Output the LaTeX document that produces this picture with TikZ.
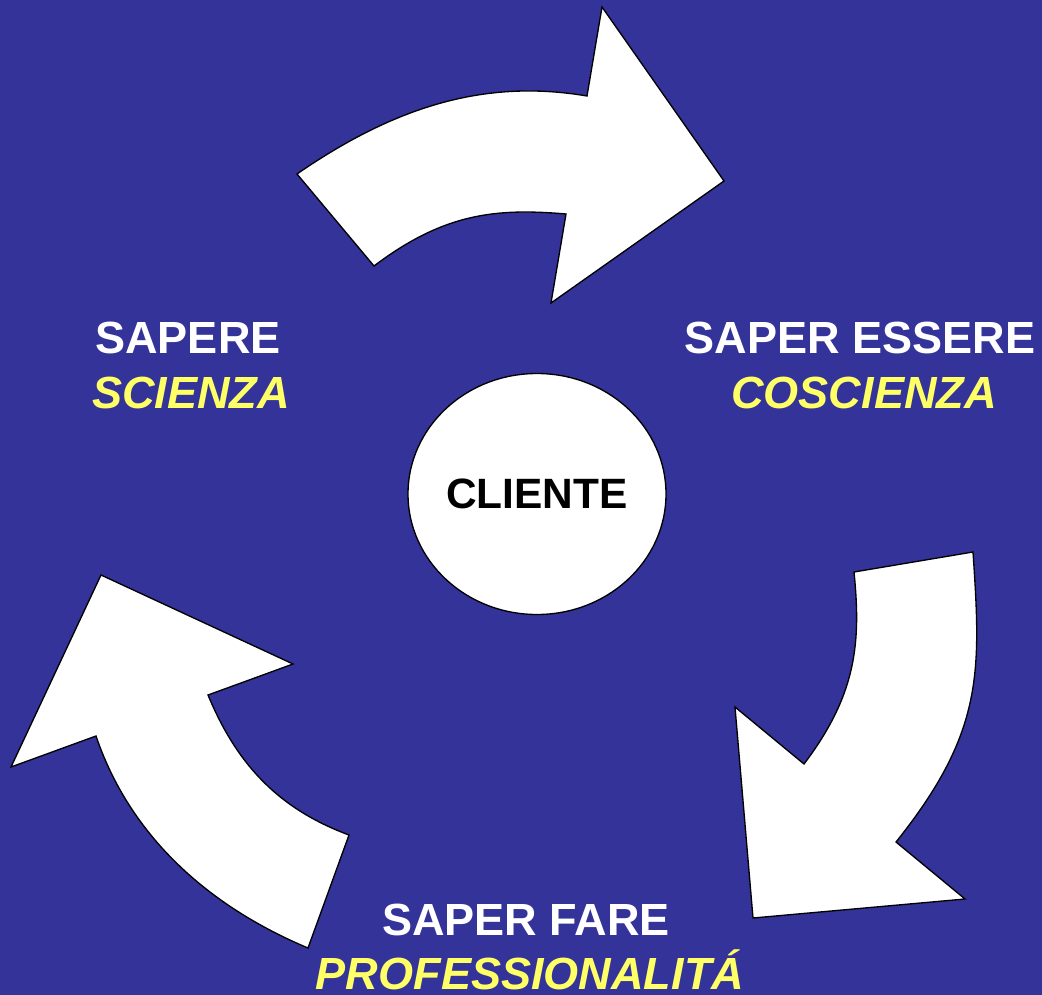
\documentclass[tikz,border=0pt]{standalone}
\usepackage{fontspec}
\setmainfont{Liberation Sans}
\usetikzlibrary{shapes.geometric}
\definecolor{bgblue}{HTML}{333399}
\definecolor{lblyellow}{HTML}{FFFF66}
\tikzset{
  arrowshape/.style={draw=black, fill=white, line width=1pt, line join=miter},
  toplabel/.style={anchor=base, text=white, font=\fontsize{33.8}{40}\selectfont\bfseries, inner sep=0},
  sublabel/.style={anchor=base, text=lblyellow, font=\fontsize{33.8}{40}\selectfont\bfseries\itshape, inner sep=0},
}
\begin{document}
\begin{tikzpicture}[x=0.75pt,y=-0.75pt]
\fill[bgblue] (0,0) rectangle (1042,995);
\useasboundingbox (0,0) rectangle (1042,995);
% top arrow
\path[arrowshape] (297,174) .. controls (397,105) and (487,79) .. (587,96)
  -- (602,7) -- (724,181) -- (551,303) -- (566,214)
  .. controls (496,208) and (444,213) .. (374,266) -- cycle;
% right arrow
\path[arrowshape] (854,572) -- (973,552) .. controls (981,672) and (984,732) .. (896,842)
  -- (965,899) -- (753,918) -- (735,707) -- (804,764)
  .. controls (857,694) and (861,642) .. (854,572) -- cycle;
% left arrow
\path[arrowshape] (308,948) .. controls (208,906) and (130,836) .. (96,736)
  -- (11,767) -- (101,575) -- (293,664) -- (208,695)
  .. controls (237,765) and (279,809) .. (349,835) -- cycle;
% centre
\node (cliente) [draw=black, fill=white, line width=1pt, ellipse, minimum width=193.5pt, minimum height=180.75pt, inner sep=0, font=\fontsize{31.8}{38}\selectfont\bfseries] at (537,494) {CLIENTE};
% labels
\node (sapere) [toplabel] at (188,353) {SAPERE};
\node (scienza) [sublabel] at (191,408) {SCIENZA};
\node (saperessere) [toplabel] at (860,353) {SAPER ESSERE};
\node (coscienza) [sublabel] at (864,408) {COSCIENZA};
\node (saperfare) [toplabel] at (526,935) {SAPER FARE};
\node (profess) [sublabel] at (530,989) {PROFESSIONALITÁ};
\end{tikzpicture}
\end{document}
